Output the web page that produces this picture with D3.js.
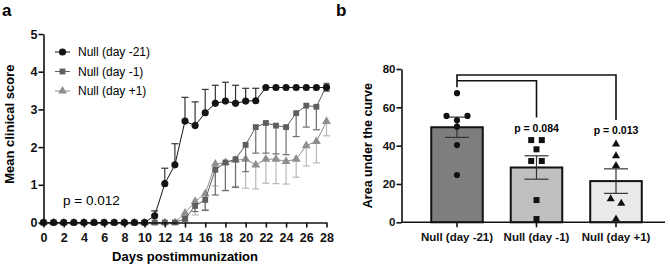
<!DOCTYPE html>
<html>
<head>
<meta charset="utf-8">
<script src="https://cdn.jsdelivr.net/npm/d3@7"></script>
<style>
  body { margin: 0; background: #fff; }
  svg { font-family: "Liberation Sans", Arial, sans-serif; }
</style>
</head>
<body>
<div id="chart"></div>
<script>
// ---- panel a data: mean clinical score per day ----
const days = [0,1,2,3,4,5,6,7,8,9,10,11,12,13,14,15,16,17,18,19,20,21,22,23,24,25,26,27,28];
const nullM21 = [0,0,0,0,0,0,0,0,0,0,0,0.18,1.03,1.53,2.69,2.57,2.91,3.16,3.22,3.16,3.22,3.23,3.58,3.58,3.58,3.58,3.58,3.58,3.58];
const nullM21Sem = [0,0,0,0,0,0,0,0,0,0,0,0.13,0.41,0.56,0.63,0.63,0.62,0.48,0.5,0.48,0.34,0.33,0,0,0,0,0,0,0];
const nullM1 = [0,0,0,0,0,0,0,0,0,0,0,0,0,0,0.1,0.44,0.6,1.4,1.59,1.68,2.06,2.53,2.64,2.57,2.53,2.9,3.1,3.07,3.63];
const nullM1Sem = [0,0,0,0,0,0,0,0,0,0,0,0,0,0,0.06,0.15,0.28,0.67,0.74,0.75,0.71,0.69,0.8,0.75,0.73,0.62,0.57,0.61,0.15];
const nullP1 = [0,0,0,0,0,0,0,0,0,0,0,0,0,0,0.25,0.56,0.76,1.55,1.59,1.65,1.68,1.53,1.68,1.68,1.62,1.68,2.04,2.15,2.68];
const nullP1Sem = [0,0,0,0,0,0,0,0,0,0,0,0,0,0,0.1,0.36,0.42,0.58,0.75,0.69,0.77,0.64,0.64,0.65,0.6,0.48,0.54,0.57,0.38];
const xTicksA = [0,2,4,6,8,10,12,14,16,18,20,22,24,26,28];
const yTicksA = [0,1,2,3,4,5];

// ---- panel b data: area under the curve ----
const groups = ["Null (day -21)", "Null (day -1)", "Null (day +1)"];
const aucMean = [49.6, 28.6, 21.5];
const aucSem = [5.3, 6.1, 6.4];
const aucM21 = [67.4, 55.5, 55.5, 53.2, 49.9, 40.3, 24.7];
const aucM1 = [42.9, 42.9, 38.1, 32.0, 32.0, 11.6, 1.7];
const aucP1 = [40.8, 34.6, 29.6, 12.2, 9.9, 1.7];
const yTicksB = [0, 20, 40, 60, 80];

const width = 670, height = 265;
const svg = d3.select("#chart").append("svg")
    .attr("width", width)
    .attr("height", height);

// panel letters
svg.append("text").attr("x", 2).attr("y", 16).attr("font-size", 17).attr("font-weight", "bold").text("a");
svg.append("text").attr("x", 336).attr("y", 16).attr("font-size", 17).attr("font-weight", "bold").text("b");

// ================= panel a =================
const xA = d3.scaleLinear().domain([0, 28]).range([43.5, 326.5]);
const yA = d3.scaleLinear().domain([0, 5]).range([222.5, 34]);

const gA = svg.append("g");

const series = [
    { name: "Null (day +1)", values: nullP1, sem: nullP1Sem, dir: -1, symbol: d3.symbolTriangle, size: 34, fill: "#8f8f8f", bar: "#b8b8b8" },
    { name: "Null (day -1)", values: nullM1, sem: nullM1Sem, dir: -1, symbol: d3.symbolSquare, size: 34, fill: "#5e5e5e", bar: "#6e6e6e" },
    { name: "Null (day -21)", values: nullM21, sem: nullM21Sem, dir: 1, symbol: d3.symbolCircle, size: 40, fill: "#141414", bar: "#333" }
];

const line = d3.line().x(d => xA(d.day)).y(d => yA(d.v));

series.forEach(s => {
    const pts = days.map((d, i) => ({ day: d, v: s.values[i], e: s.sem[i] }));
    const g = gA.append("g");

    // one-sided error bars
    const errs = g.selectAll(".err").data(pts.filter(p => p.e > 0)).enter().append("g");
    errs.append("line")
        .attr("x1", p => xA(p.day)).attr("x2", p => xA(p.day))
        .attr("y1", p => yA(p.v)).attr("y2", p => yA(p.v + s.dir * p.e))
        .attr("stroke", s.bar).attr("stroke-width", 1.2);
    errs.append("line")
        .attr("x1", p => xA(p.day) - 3.5).attr("x2", p => xA(p.day) + 3.5)
        .attr("y1", p => yA(p.v + s.dir * p.e)).attr("y2", p => yA(p.v + s.dir * p.e))
        .attr("stroke", s.bar).attr("stroke-width", 1.2);

    g.append("path").datum(pts)
        .attr("d", line).attr("fill", "none")
        .attr("stroke", s.fill).attr("stroke-width", 1);

    g.selectAll(".pt").data(pts).enter().append("path")
        .attr("transform", p => `translate(${xA(p.day)},${yA(p.v)})`)
        .attr("d", d3.symbol().type(s.symbol).size(s.size))
        .attr("fill", s.fill);
});

// axes a
const axA = gA.append("g").attr("transform", `translate(0,${yA(0)})`)
    .call(d3.axisBottom(xA).tickValues(xTicksA).tickSize(5).tickSizeOuter(0).tickFormat(d3.format("d")));
const ayA = gA.append("g").attr("transform", `translate(${xA(0)},0)`)
    .call(d3.axisLeft(yA).tickValues(yTicksA).tickSize(5).tickSizeOuter(0).tickFormat(d3.format("d")));
[axA, ayA].forEach(a => {
    a.select(".domain").attr("stroke", "#111").attr("stroke-width", 1.6);
    a.selectAll(".tick line").attr("stroke", "#111").attr("stroke-width", 1.6);
    a.selectAll(".tick text").attr("font-size", 12.5).attr("font-weight", "bold")
        .attr("fill", "#111").attr("font-family", "Liberation Sans, Arial, sans-serif");
});
axA.selectAll(".tick text").attr("dy", "0.95em");
ayA.selectAll(".tick text").attr("x", -6);

gA.append("text")
    .attr("transform", `translate(14,${(yA(0) + yA(5)) / 2 - 4}) rotate(-90)`)
    .attr("text-anchor", "middle").attr("font-size", 13).attr("font-weight", "bold")
    .text("Mean clinical score");
gA.append("text")
    .attr("x", (xA(0) + xA(28)) / 2).attr("y", 261)
    .attr("text-anchor", "middle").attr("font-size", 13).attr("font-weight", "bold")
    .text("Days postimmunization");
gA.append("text").attr("x", 63).attr("y", 205).attr("font-size", 13.5).text("p = 0.012");

// legend
const legend = gA.append("g");
series.slice().reverse().forEach((s, i) => {
    const y = 52 + i * 19.5;
    legend.append("line").attr("x1", 55).attr("x2", 70).attr("y1", y).attr("y2", y)
        .attr("stroke", s.fill).attr("stroke-width", 1);
    legend.append("path").attr("transform", `translate(62.5,${y})`)
        .attr("d", d3.symbol().type(s.symbol).size(s.size)).attr("fill", s.fill);
    legend.append("text").attr("x", 78).attr("y", y + 4.3).attr("font-size", 12).text(s.name);
});

// ================= panel b =================
const xB = d3.scaleBand().domain(groups).range([417.25, 655.75]).paddingInner(0.352).paddingOuter(0.176);
const yB = d3.scaleLinear().domain([0, 80]).range([222.3, 69]);
const gB = svg.append("g");

const barFills = ["#7e7e7e", "#bfbfbf", "#eaeaea"];
const pointSets = [aucM21, aucM1, aucP1];
const pointSymbols = [d3.symbolCircle, d3.symbolSquare, d3.symbolTriangle];
const pointSizes = [30, 36, 28];

gB.selectAll(".bar").data(groups).enter().append("rect")
    .attr("x", d => xB(d)).attr("width", xB.bandwidth())
    .attr("y", (d, i) => yB(aucMean[i])).attr("height", (d, i) => yB(0) - yB(aucMean[i]))
    .attr("fill", (d, i) => barFills[i]).attr("stroke", "#111").attr("stroke-width", 2);

// mean +/- sem
groups.forEach((gname, i) => {
    const cx = xB(gname) + xB.bandwidth() / 2;
    const lo = yB(aucMean[i] - aucSem[i]), hi = yB(aucMean[i] + aucSem[i]);
    const eg = gB.append("g").attr("stroke", "#333").attr("stroke-width", 1.2);
    eg.append("line").attr("x1", cx).attr("x2", cx).attr("y1", lo).attr("y2", hi);
    eg.append("line").attr("x1", cx - 12).attr("x2", cx + 12).attr("y1", lo).attr("y2", lo);
    eg.append("line").attr("x1", cx - 12).attr("x2", cx + 12).attr("y1", hi).attr("y2", hi);
});

// individual points, tied values spread sideways
function spread(vals) {
    const sorted = vals.map((v, i) => ({ v, i })).sort((a, b) => b.v - a.v);
    const out = [];
    let k = 0;
    while (k < sorted.length) {
        const cl = [sorted[k]];
        while (k + cl.length < sorted.length && cl[cl.length - 1].v - sorted[k + cl.length].v < 2.5) cl.push(sorted[k + cl.length]);
        const offs = cl.length === 1 ? [0] : cl.length === 2 ? [-5.3, 5.3] : [-10.5, 10.5, 0];
        cl.forEach((p, j) => out.push({ v: p.v, dx: offs[j] || 0 }));
        k += cl.length;
    }
    return out;
}
groups.forEach((gname, i) => {
    const cx = xB(gname) + xB.bandwidth() / 2;
    gB.selectAll(".p" + i).data(spread(pointSets[i])).enter().append("path")
        .attr("transform", p => `translate(${cx + p.dx},${yB(p.v)})`)
        .attr("d", d3.symbol().type(pointSymbols[i]).size(pointSizes[i]))
        .attr("fill", "#111");
});

// axes b
const axB = gB.append("g").attr("transform", `translate(0,${yB(0)})`)
    .call(d3.axisBottom(xB).tickSize(5).tickSizeOuter(0));
axB.select(".domain").attr("d", "M401.5,0H665");
const ayB = gB.append("g").attr("transform", "translate(401.5,0)")
    .call(d3.axisLeft(yB).tickValues(yTicksB).tickSize(5).tickSizeOuter(0));
[axB, ayB].forEach(a => {
    a.select(".domain").attr("stroke", "#111").attr("stroke-width", 1.6);
    a.selectAll(".tick line").attr("stroke", "#111").attr("stroke-width", 1.6);
    a.selectAll(".tick text").attr("font-size", 11.5).attr("font-weight", "bold")
        .attr("fill", "#111").attr("font-family", "Liberation Sans, Arial, sans-serif");
});
axB.selectAll(".tick text").attr("dy", "0.95em");
ayB.selectAll(".tick text").attr("x", -6);

gB.append("text")
    .attr("transform", `translate(372,${(yB(0) + yB(80)) / 2}) rotate(-90)`)
    .attr("text-anchor", "middle").attr("font-size", 12.5).attr("font-weight", "bold")
    .text("Area under the curve");

// significance brackets
const c0 = xB(groups[0]) + xB.bandwidth() / 2;
const c1 = xB(groups[1]) + xB.bandwidth() / 2;
const c2 = xB(groups[2]) + xB.bandwidth() / 2;
const br = gB.append("g").attr("fill", "none").attr("stroke", "#111").attr("stroke-width", 1.6);
br.append("path").attr("d", `M${c0},${yB(70.5)}V75H${c2}V120`);
br.append("path").attr("d", `M${c0},80.7H${c1}V117.5`);
gB.append("text").attr("x", c1).attr("y", 131.5).attr("text-anchor", "middle")
    .attr("font-size", 10.5).attr("font-weight", "bold").text("p = 0.084");
gB.append("text").attr("x", c2).attr("y", 134).attr("text-anchor", "middle")
    .attr("font-size", 10.5).attr("font-weight", "bold").text("p = 0.013");
</script>
</body>
</html>
